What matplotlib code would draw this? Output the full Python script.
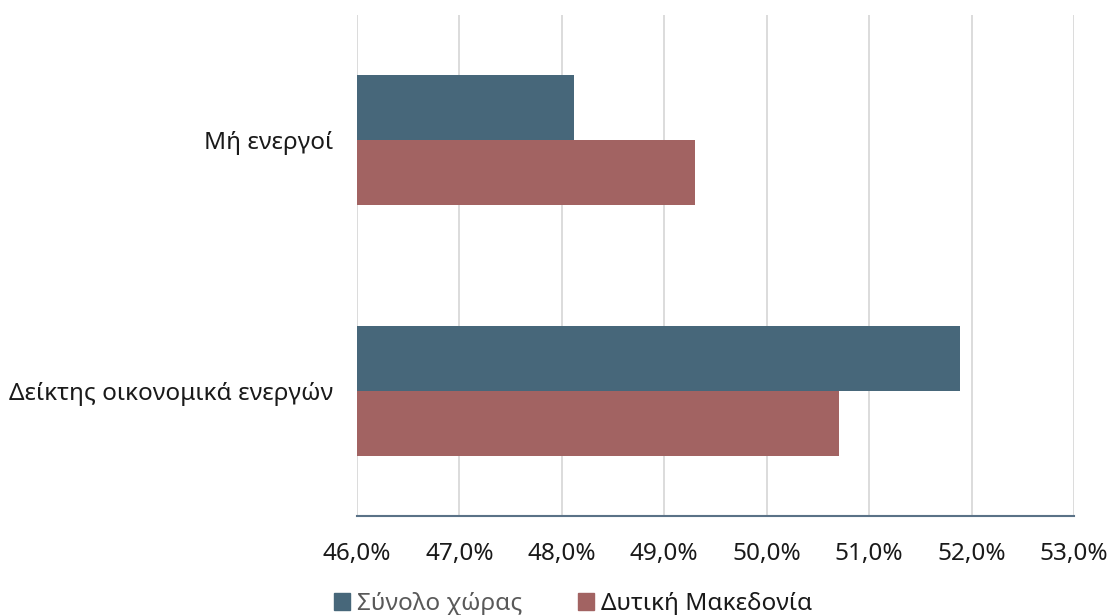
import matplotlib
matplotlib.use("Agg")
import matplotlib.pyplot as plt
import numpy as np
from matplotlib.ticker import FuncFormatter
from matplotlib.patches import Rectangle

categories = ["Δείκτης οικονομικά ενεργών", "Μή ενεργοί"]
series_names = ["Σύνολο χώρας", "Δυτική Μακεδονία"]
synolo = [51.89, 48.12]
dyt_mak = [50.71, 49.30]
colors = ["#47677A", "#A26362"]

plt.rcParams['font.family'] = ['Noto Sans', 'DejaVu Sans']

fig = plt.figure(figsize=(11.09, 6.15), dpi=100)
ax = fig.add_axes([0.3219, 0.161, 0.6465, 0.8146])

y = np.arange(len(categories))
h = 0.26
ax.barh(y + h/2, synolo, height=h, left=0, color=colors[0], zorder=3)
ax.barh(y - h/2, dyt_mak, height=h, left=0, color=colors[1], zorder=3)

ax.set_xlim(46, 53)
ax.set_ylim(-0.5, 1.5)
ax.set_xticks(np.arange(46, 54, 1))
ax.xaxis.set_major_formatter(FuncFormatter(lambda v, p: f"{v:.1f}".replace(".", ",") + "%"))
ax.set_yticks(y)
ax.set_yticklabels(categories)
ax.grid(axis='x', color='#D9D9D9', linewidth=1.3, zorder=0)
for s in ['top', 'right', 'left']:
    ax.spines[s].set_visible(False)
ax.spines['bottom'].set_color('#5A7287')
ax.spines['bottom'].set_linewidth(1.5)
ax.tick_params(axis='x', length=0, pad=19, labelsize=17.5, labelcolor='#1a1a1a')
ax.tick_params(axis='y', length=0, pad=17, labelsize=17.5, labelcolor='#1a1a1a')

handles = [Rectangle((0, 0), 1, 1, color=c) for c in colors]
leg = fig.legend(handles, series_names, loc='center', bbox_to_anchor=(0.517, 0.018),
                 ncol=2, frameon=False, fontsize=17.5, handlelength=0.65, handleheight=0.65,
                 handletextpad=0.3, columnspacing=2.3)
leg.get_texts()[0].set_color('#595959')
leg.get_texts()[1].set_color('#1a1a1a')

fig.savefig("out.png", dpi=100)
